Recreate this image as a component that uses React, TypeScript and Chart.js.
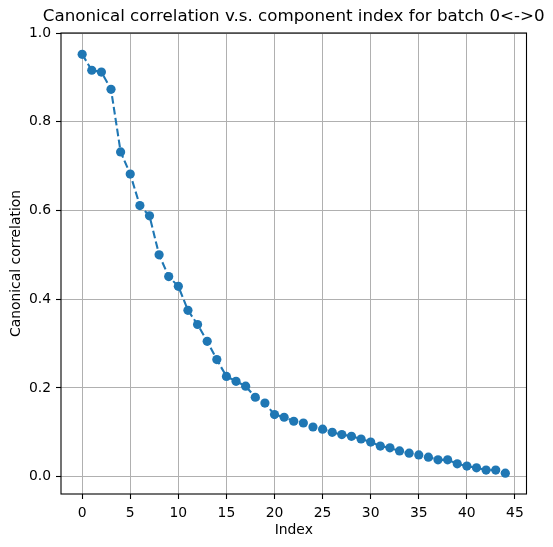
import React, { useEffect, useRef } from "react";
import { Chart, registerables } from "chart.js";

Chart.register(...registerables);

// Component indices and their canonical correlation values
const componentIndex: number[] = Array.from({ length: 45 }, (_, i) => i);
const canonicalCorrelation: number[] = [
  0.952, 0.916, 0.912, 0.873, 0.732, 0.682, 0.611, 0.588, 0.5, 0.451,
  0.429, 0.375, 0.343, 0.305, 0.264, 0.226, 0.215, 0.204, 0.179, 0.166,
  0.14, 0.134, 0.125, 0.121, 0.112, 0.107, 0.1, 0.095, 0.091, 0.085,
  0.078, 0.069, 0.065, 0.058, 0.053, 0.049, 0.044, 0.038, 0.038, 0.029,
  0.024, 0.02, 0.015, 0.015, 0.008,
];
const xTicks: number[] = [0, 5, 10, 15, 20, 25, 30, 35, 40, 45];
const yTicks: number[] = [0, 0.2, 0.4, 0.6, 0.8, 1.0];

const titleText = "Canonical correlation v.s. component index for batch 0<->0";
const xLabel = "Index";
const yLabel = "Canonical correlation";

const FONT = "'DejaVu Sans', sans-serif";
const BLUE = "#1f77b4";

const decorations = {
  id: "decorations",
  afterDraw(chart: any) {
    const { ctx, chartArea } = chart;
    const { left, right, top, bottom } = chartArea;
    ctx.save();
    // axes frame
    ctx.strokeStyle = "#000";
    ctx.lineWidth = 1.1;
    ctx.strokeRect(left, top, right - left, bottom - top);
    ctx.fillStyle = "#000";
    ctx.textAlign = "center";
    ctx.textBaseline = "middle";
    // title
    ctx.font = `16.7px ${FONT}`;
    ctx.fillText(titleText, (left + right) / 2, 17);
    // axis labels
    ctx.font = `13.9px ${FONT}`;
    ctx.fillText(xLabel, (left + right) / 2, 530);
    ctx.translate(16, (top + bottom) / 2);
    ctx.rotate(-Math.PI / 2);
    ctx.fillText(yLabel, 0, 0);
    ctx.restore();
  },
};

export default function App() {
  const ref = useRef<HTMLCanvasElement>(null);

  useEffect(() => {
    if (!ref.current) return;
    const points = componentIndex.map((x, i) => ({ x, y: canonicalCorrelation[i] }));
    const chart = new Chart(ref.current, {
      type: "line",
      data: {
        datasets: [
          {
            data: points,
            borderColor: BLUE,
            backgroundColor: BLUE,
            borderWidth: 2.1,
            borderDash: [7.7, 3.3],
            pointRadius: 4.6,
            pointBorderWidth: 0,
            pointBackgroundColor: BLUE,
            fill: false,
            tension: 0,
          },
        ],
      },
      options: {
        responsive: false,
        animation: false,
        devicePixelRatio: 1,
        layout: { padding: { left: 0, top: 33, right: 26.5, bottom: 0 } },
        plugins: {
          legend: { display: false },
          title: { display: false },
          tooltip: { enabled: false },
        },
        scales: {
          x: {
            type: "linear",
            min: -2.2,
            max: 46.2,
            afterBuildTicks: (scale: any) => {
              scale.ticks = xTicks.map((v) => ({ value: v }));
            },
            afterFit: (scale: any) => {
              scale.height = 53;
            },
            grid: {
              color: "#b0b0b0",
              lineWidth: 1,
              drawTicks: true,
              tickLength: 5,
              tickColor: "#000",
              tickWidth: 1.1,
            },
            border: { display: false },
            ticks: {
              color: "#000",
              font: { family: FONT, size: 13.9 },
              padding: 6,
              maxRotation: 0,
              autoSkip: false,
              callback: (v: any) => String(v),
            },
          },
          y: {
            type: "linear",
            min: -0.039,
            max: 1.0,
            afterBuildTicks: (scale: any) => {
              scale.ticks = yTicks.map((v) => ({ value: v }));
            },
            afterFit: (scale: any) => {
              scale.width = 61;
            },
            grid: {
              color: "#b0b0b0",
              lineWidth: 1,
              drawTicks: true,
              tickLength: 5,
              tickColor: "#000",
              tickWidth: 1.1,
            },
            border: { display: false },
            ticks: {
              color: "#000",
              font: { family: FONT, size: 13.9 },
              padding: 5,
              autoSkip: false,
              callback: (v: any) => Number(v).toFixed(1),
            },
          },
        },
      },
      plugins: [decorations],
    });
    return () => chart.destroy();
  }, []);

  return (
    <div style={{ position: "absolute", left: 0, top: 0, width: 553, height: 547, background: "#fff" }}>
      <canvas ref={ref} width={553} height={547} />
    </div>
  );
}
